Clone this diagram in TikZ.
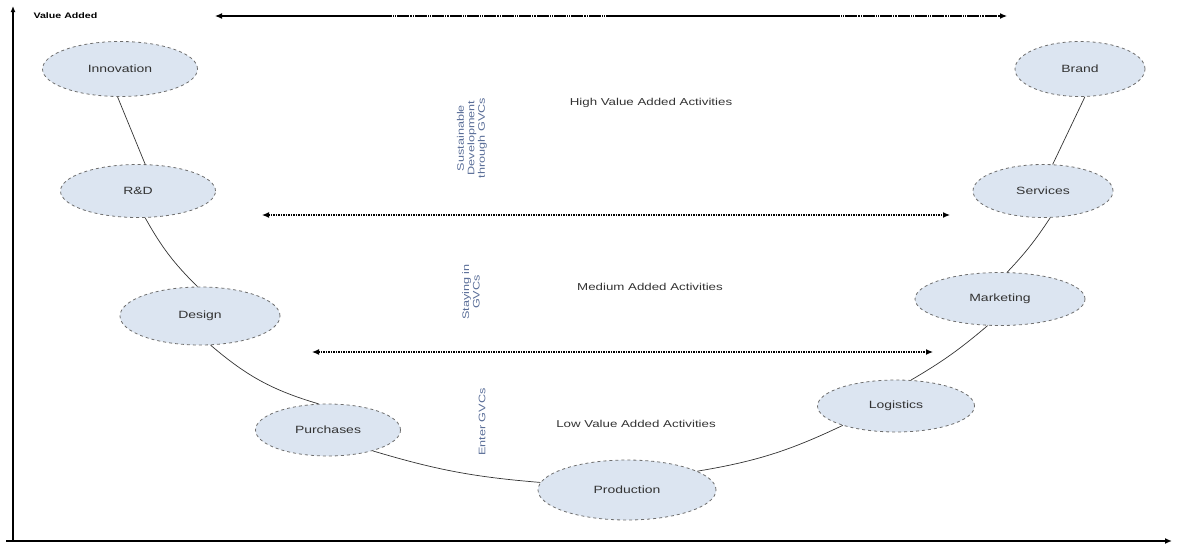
\documentclass[tikz,border=0pt]{standalone}
\usepackage{fontspec}
\setmainfont{Liberation Sans}
\newfontfamily\widefont[FakeStretch=1.33]{Liberation Sans}
\usetikzlibrary{shapes.geometric,arrows.meta}
\definecolor{efill}{HTML}{DCE5F1}
\definecolor{edraw}{HTML}{6E6E6E}
\definecolor{vtext}{HTML}{5A6E98}
\tikzset{
  act/.style={ellipse, draw=edraw, dashed, line width=0.8pt, fill=efill, minimum width=#1, font=\widefont\fontsize{10.5}{12}\selectfont, text=black!80},
  link/.style={draw=black!80, line width=0.7pt},
  band/.style={line width=1.2pt, {Latex[length=7pt,width=6pt]}-{Latex[length=7pt,width=6pt]}},
  lvl/.style={font=\widefont\fontsize{10}{12}\selectfont, text=black!80},
  vt/.style={font=\widefont\fontsize{9.5}{10.5}\selectfont, text=vtext, rotate=90, align=center},
}
\begin{document}
\begin{tikzpicture}[x=1pt,y=-1pt]
\useasboundingbox (0,0) rectangle (1185,550);
% axes
\coordinate (o) at (13,541);
\coordinate (ytop) at (13,6);
\coordinate (xend) at (1172,541);
\coordinate (xstart) at (6,541);
\draw[line width=1.2pt,-{Latex[length=6pt,width=5pt]}] (o) -- (ytop);
\draw[line width=1.4pt,-{Latex[length=7pt,width=6pt]}] (xstart) -- (xend);
\node[anchor=west, font=\bfseries\widefont\fontsize{8}{10}\selectfont] (va) at (30,16) {Value Added};
% ellipses
\node[act=155pt, minimum height=55pt] (inn) at (120,69) {Innovation};
\node[act=155pt, minimum height=53pt] (rd) at (138,191) {R\&D};
\node[act=160pt, minimum height=58pt] (des) at (200,316) {Design};
\node[act=145pt, minimum height=52pt] (pur) at (328,430) {Purchases};
\node[act=178pt, minimum height=60pt] (pro) at (627,490) {Production};
\node[act=157pt, minimum height=52pt] (log) at (896,406) {Logistics};
\node[act=170pt, minimum height=53pt] (mar) at (1000,299) {Marketing};
\node[act=140pt, minimum height=53pt] (ser) at (1043,191) {Services};
\node[act=130pt, minimum height=55pt] (bra) at (1080,69) {Brand};
% links
\draw[link] (inn.-95) -- (rd.75);
\draw[link] (rd.-75) to[bend right=8] (des.95);
\draw[link] (des.-70) to[bend right=12] (pur.110);
\draw[link] (pur.-25) to[bend right=6] (pro.175);
\draw[link] (pro.15) to[bend right=8] (log.-160);
\draw[link] (log.60) to[bend right=5] (mar.-115);
\draw[link] (mar.75) to[bend right=5] (ser.-75);
\draw[link] (ser.70) -- (bra.-80);
% band arrows
\coordinate (t1) at (215,16); \coordinate (t2) at (1007,16);
\coordinate (d1) at (392,16); \coordinate (d2) at (612,16);
\coordinate (d3) at (840,16); \coordinate (d4) at (998,16);
\coordinate (m1) at (262,215); \coordinate (m2) at (950,215);
\coordinate (l1) at (312,352); \coordinate (l2) at (933,352);
\draw[band] (t1) -- (t2);
\draw[white, line width=2pt, dash pattern=on 1pt off 1.2pt on 1pt off 1.2pt on 1pt off 12pt] (d1) -- (d2);
\draw[white, line width=2pt, dash pattern=on 1pt off 1.2pt on 1pt off 1.2pt on 1pt off 12pt] (d3) -- (d4);
\draw[band, dash pattern=on 1.5pt off 1pt] (m1) -- (m2);
\draw[band, dash pattern=on 1.5pt off 1pt] (l1) -- (l2);
% level labels
\node[lvl] (hi) at (651,103) {High Value Added Activities};
\node[lvl] (me) at (650,287) {Medium Added Activities};
\node[lvl] (lo) at (636,424) {Low Value Added Activities};
% vertical labels
\node[vt] (v1) at (472,138) {Sustainable\\Development\\through GVCs};
\node[vt] (v2) at (471,292) {Staying in\\GVCs};
\node[vt] (v3) at (482,422) {Enter GVCs};
\end{tikzpicture}
\end{document}
